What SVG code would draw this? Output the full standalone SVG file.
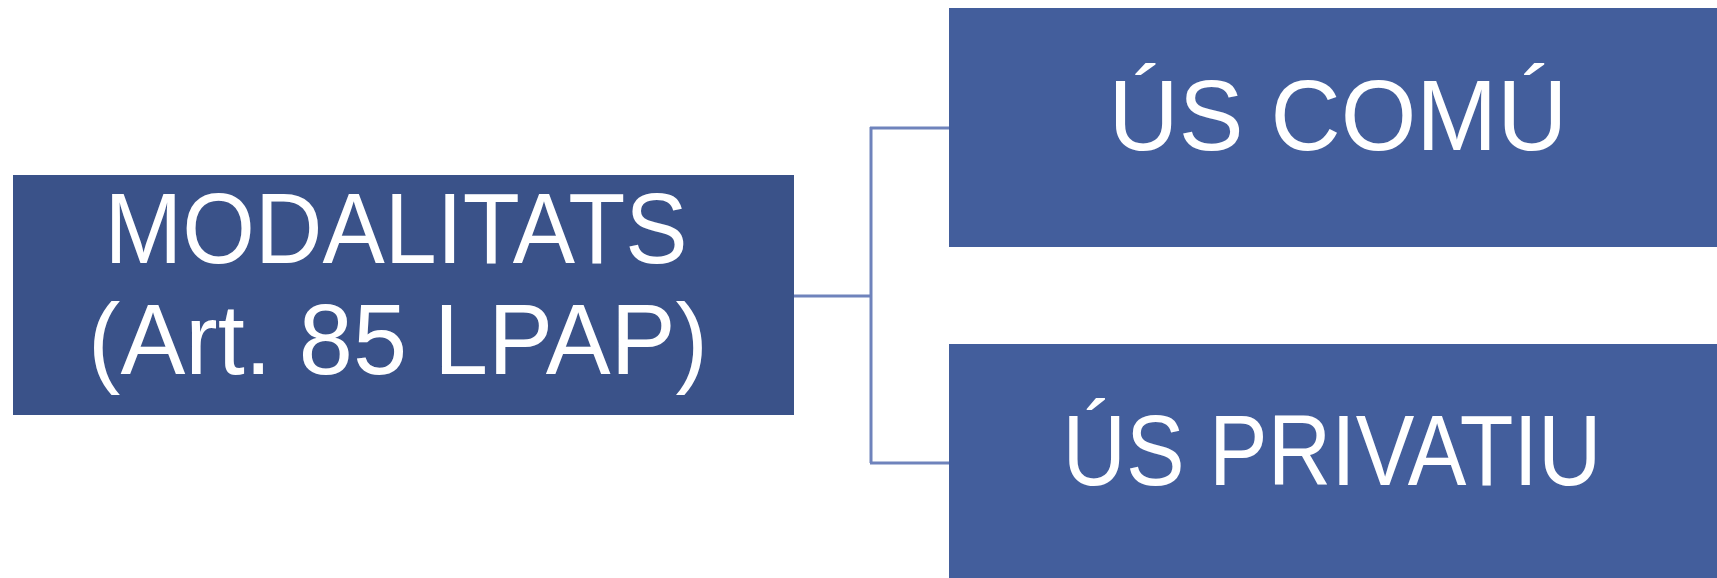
<svg xmlns="http://www.w3.org/2000/svg" width="1717" height="578" viewBox="0 0 1717 578">
<style>
.t{font-family:"Liberation Sans",Arial,sans-serif;font-size:101px;fill:#fff;text-anchor:middle}
.c{fill:none;stroke:#6F83BC;stroke-width:3}
</style>
<rect width="1717" height="578" fill="#fff"/>
<g id="connectors">
<path class="c" d="M794 296 H871 M871 127 V463 M870 128 H949 M870 463 H949"/>
</g>
<g id="node-modalitats">
<rect x="13" y="175" width="781" height="240" fill="#3A5289"/>
<text class="t" x="396" y="263" textLength="583" lengthAdjust="spacingAndGlyphs">MODALITATS</text>
<text class="t" x="398" y="374" textLength="620" lengthAdjust="spacingAndGlyphs">(Art. 85 LPAP)</text>
</g>
<g id="node-us-comu">
<rect x="949" y="8" width="768" height="239" fill="#435E9C"/>
<text class="t" x="1338" y="150" textLength="459" lengthAdjust="spacingAndGlyphs">ÚS COMÚ</text>
</g>
<g id="node-us-privatiu">
<rect x="949" y="344" width="768" height="234" fill="#435E9C"/>
<text class="t" x="1332" y="485" textLength="539" lengthAdjust="spacingAndGlyphs">ÚS PRIVATIU</text>
</g>
</svg>
